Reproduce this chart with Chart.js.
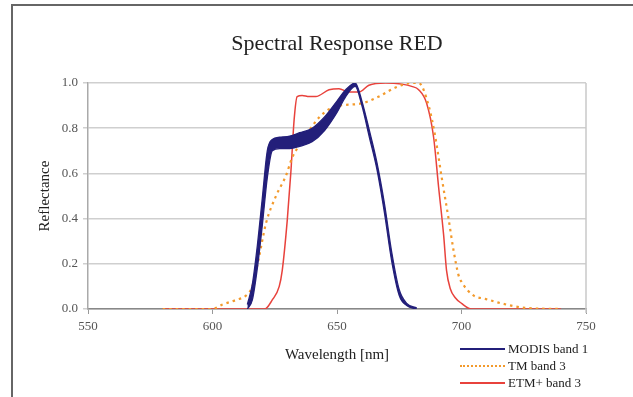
<!DOCTYPE html>
<html>
<head>
<meta charset="utf-8">
<title>Spectral Response RED</title>
<script src="https://cdn.jsdelivr.net/npm/chart.js@4/dist/chart.umd.min.js"></script>
<style>
  body { margin: 0; background: #fff; }
  #wrap { position: relative; width: 633px; height: 397px; overflow: hidden; }
  #frame { position: absolute; left: 11px; top: 4px; width: 640px; height: 410px;
           border-left: 2px solid #666; border-top: 2px solid #666; }
  #legend { position: absolute; left: 460px; top: 341px; font-family: "Liberation Serif", serif;
            font-size: 13px; color: #222; }
  .leg-row { height: 16.7px; display: flex; align-items: center; }
  .leg-line { width: 45px; height: 0; margin-right: 3px; }
</style>
</head>
<body>
<div id="wrap">
  <canvas id="chart" width="633" height="397"></canvas>
  <div id="frame"></div>
  <div id="legend"></div>
</div>
<script>
// ====================
// データ
// ====================
const xTicks = [550, 600, 650, 700, 750];
const yTicks = [0.0, 0.2, 0.4, 0.6, 0.8, 1.0];

// MODIS band 1 : 複数検出器の束 → 上側/下側の包絡線
const modisWl    = [614, 616, 618, 620, 622, 624, 627, 631, 635, 640, 645, 650, 653.5, 657.3, 660, 663, 666, 669, 672, 675, 678, 682];
const modisUpper = [0.02, 0.11, 0.28, 0.49, 0.70, 0.75, 0.76, 0.765, 0.78, 0.80, 0.85, 0.92, 0.97, 1.0, 0.92, 0.79, 0.65, 0.47, 0.25, 0.085, 0.025, 0.005];
const modisLower = [0.0, 0.04, 0.18, 0.37, 0.58, 0.70, 0.71, 0.71, 0.72, 0.74, 0.79, 0.87, 0.94, 0.985, 0.90, 0.76, 0.62, 0.43, 0.21, 0.06, 0.015, 0.0];

// TM band 3
const tmWl   = [580, 590, 600, 604, 609.5, 613.5, 616, 618.5, 621.5, 625.5, 629.5, 632, 634, 638.8, 643, 647, 651, 660, 666.8, 673.5, 680, 682.8, 686.8, 689.5, 692, 694.8, 696.8, 698.8, 700, 704.8, 709.5, 716, 725.5, 740];
const tmVals = [0, 0, 0, 0.02, 0.04, 0.06, 0.10, 0.22, 0.38, 0.50, 0.59, 0.67, 0.71, 0.79, 0.85, 0.885, 0.90, 0.91, 0.94, 0.98, 1.0, 1.0, 0.90, 0.76, 0.585, 0.40, 0.26, 0.15, 0.12, 0.06, 0.045, 0.025, 0.005, 0];

// ETM+ band 3
const etmWl   = [580, 600, 621, 624, 626.8, 628, 630, 631.5, 632.8, 634, 636, 638.8, 641.5, 646.8, 650.8, 654.8, 658.8, 662.8, 669.5, 676, 680, 682.8, 686, 688.8, 690.8, 692.8, 694, 695.5, 697.5, 700, 704, 740];
const etmVals = [0, 0, 0, 0.04, 0.10, 0.17, 0.39, 0.61, 0.84, 0.94, 0.945, 0.94, 0.94, 0.97, 0.975, 0.96, 0.96, 0.99, 1.0, 0.995, 0.985, 0.97, 0.91, 0.76, 0.54, 0.33, 0.17, 0.09, 0.05, 0.025, 0, 0];

const NAVY = '#231f7a';
const ORANGE = '#f39a2c';
const RED = '#e8423c';
const SERIF = '"Liberation Serif", "Times New Roman", serif';

// x/y 配列を {x, y} 点列に変換
function toPoints(xs, ys) {
  return xs.map((x, i) => ({ x: x, y: ys[i] }));
}

// プロット領域の右枠線
const rightBorder = {
  id: 'rightBorder',
  afterDraw(chart) {
    const { ctx, chartArea } = chart;
    ctx.save();
    ctx.strokeStyle = '#c8c8c8';
    ctx.lineWidth = 1.5;
    ctx.beginPath();
    ctx.moveTo(chartArea.right, chartArea.top);
    ctx.lineTo(chartArea.right, chartArea.bottom + 4);
    ctx.stroke();
    ctx.restore();
  }
};

const chart = new Chart(document.getElementById('chart'), {
  type: 'scatter',
  data: {
    datasets: [
      { label: 'MODIS band 1', legend: true, data: toPoints(modisWl, modisLower),
        borderColor: NAVY, borderWidth: 1.3, backgroundColor: NAVY, fill: false },
      { label: 'MODIS upper', legend: false, data: toPoints(modisWl, modisUpper),
        borderColor: NAVY, borderWidth: 1.3, backgroundColor: NAVY, fill: '-1' },
      { label: 'TM band 3', legend: true, data: toPoints(tmWl, tmVals),
        borderColor: ORANGE, borderWidth: 2.2, borderDash: [2.5, 4], fill: false },
      { label: 'ETM+ band 3', legend: true, data: toPoints(etmWl, etmVals),
        borderColor: RED, borderWidth: 1.5, fill: false }
    ]
  },
  options: {
    responsive: false,
    animation: false,
    showLine: true,
    elements: {
      point: { radius: 0, hoverRadius: 0 },
      line: { cubicInterpolationMode: 'monotone' }
    },
    layout: { padding: { left: 0, right: 47, top: 0, bottom: 0 } },
    plugins: {
      legend: { display: false },
      tooltip: { enabled: false },
      title: {
        display: true,
        text: 'Spectral Response RED',
        fullSize: false,
        color: '#222',
        font: { family: SERIF, size: 22, weight: 'normal', lineHeight: 1.2 },
        padding: { top: 30.8, bottom: 25.8 }
      }
    },
    scales: {
      x: {
        type: 'linear',
        min: xTicks[0],
        max: xTicks[xTicks.length - 1],
        afterBuildTicks: s => { s.ticks = xTicks.map(v => ({ value: v })); },
        afterFit: s => { s.height = 88; },
        grid: { drawOnChartArea: false, drawTicks: true, tickLength: 5, color: '#999' },
        border: { color: '#888', width: 1.5 },
        ticks: { color: '#555', padding: 5, font: { family: SERIF, size: 13 } },
        title: { display: true, text: 'Wavelength [nm]', color: '#222',
                 font: { family: SERIF, size: 15 }, padding: { bottom: 33 } }
      },
      y: {
        min: yTicks[0],
        max: yTicks[yTicks.length - 1],
        afterBuildTicks: s => { s.ticks = yTicks.map(v => ({ value: v })); },
        afterFit: s => { s.width = 88; },
        grid: { color: '#cfcfcf', lineWidth: 1.5, drawTicks: true, tickLength: 5 },
        border: { color: '#aaa', width: 1.5 },
        ticks: { color: '#555', padding: 5, font: { family: SERIF, size: 13 },
                 callback: v => v.toFixed(1) },
        title: { display: true, text: 'Reflectance', color: '#222',
                 font: { family: SERIF, size: 15 }, padding: { top: 36 } }
      }
    }
  },
  plugins: [rightBorder]
});

// 凡例 (HTML)
function buildLegend(chart) {
  const box = document.getElementById('legend');
  let html = '';
  chart.data.datasets.filter(ds => ds.legend).forEach(ds => {
    const style = ds.borderDash ? 'dotted' : 'solid';
    html += `<div class="leg-row"><span class="leg-line" style="border-top:2px ${style} ${ds.borderColor}"></span>${ds.label}</div>`;
  });
  box.innerHTML = html;
}
buildLegend(chart);
</script>
</body>
</html>
